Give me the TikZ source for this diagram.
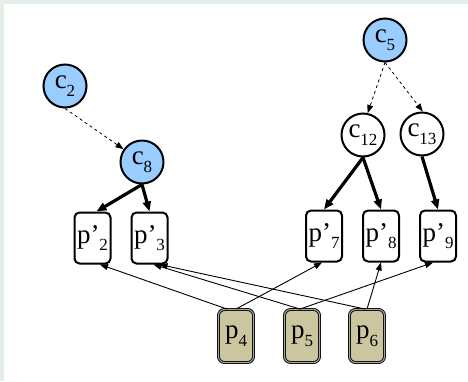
\documentclass[tikz,border=0pt]{standalone}
\usepackage{fontspec}
\setmainfont{Liberation Serif}
\usetikzlibrary{arrows.meta}
\definecolor{bgframe}{HTML}{E6EFE6}
\definecolor{cblue}{HTML}{99CCFF}
\definecolor{ptan}{HTML}{CBC6A0}
\newcommand\sbs[1]{\raisebox{-0.28em}{\fontsize{17}{17}\selectfont #1}}
\begin{document}
\begin{tikzpicture}[x=1pt,y=-1pt,
  cnode/.style={circle,draw,line width=2pt,minimum size=43pt,inner sep=0pt,fill=white,font=\fontsize{27}{29}\selectfont},
  bluenode/.style={cnode,fill=cblue},
  pbox/.style={rectangle,rounded corners=5pt,draw,line width=2pt,minimum width=36pt,minimum height=51pt,inner sep=0pt,fill=white,font=\fontsize{27}{29}\selectfont},
  porig/.style={rectangle,rounded corners=6pt,draw,line width=0.9pt,double=gray!70,double distance=1.1pt,fill=ptan,minimum width=35pt,minimum height=53pt,inner sep=0pt,font=\fontsize{27}{29}\selectfont},
  dashedge/.style={dashed,line width=0.8pt,-{Triangle[length=8pt,width=6pt]}},
  thickedge/.style={line width=3.2pt,-{Triangle[length=10pt,width=8pt]}},
  thinedge/.style={line width=0.9pt,-{Triangle[length=8pt,width=6pt]}}]
\fill[bgframe] (0,0) rectangle (468,381);
\fill[white] (4,4) rectangle (468,381);
\useasboundingbox (0,0) rectangle (468,381);
% cluster nodes
\node[bluenode] (c2) at (65,86) {c\sbs{2}};
\node[bluenode] (c8) at (142,162) {c\sbs{8}};
\node[bluenode] (c5) at (385,40) {c\sbs{5}};
\node[cnode] (c12) at (363,135) {c\sbs{12}};
\node[cnode] (c13) at (422,134) {c\sbs{13}};
% p' nodes
\node[pbox] (p2) at (92.5,238) {p’\sbs{2}};
\node[pbox] (p3) at (149.5,238) {p’\sbs{3}};
\node[pbox] (p7) at (324,236) {p’\sbs{7}};
\node[pbox] (p8) at (381,236) {p’\sbs{8}};
\node[pbox] (p9) at (438,236) {p’\sbs{9}};
% original p nodes
\node[porig] (p4) at (236,336) {p\sbs{4}};
\node[porig] (p5) at (302,336) {p\sbs{5}};
\node[porig] (p6) at (367,336) {p\sbs{6}};
% dashed
\draw[dashedge] (c2.south) -- (c8);
\draw[dashedge] (c5.south) -- (c12.78);
\draw[dashedge] (c5.south) -- (c13.88);
% thick
\draw[thickedge] (c8.south) -- ([xshift=4pt]p2.north);
\draw[thickedge] (c8.south) -- (p3.north);
\draw[thickedge] (c12.south) -- (p7.north);
\draw[thickedge] (c12.south) -- (p8.north);
\draw[thickedge] (c13.south) -- (p9.north);
% thin
\draw[thinedge] ([xshift=-9pt]p4.north) -- ([xshift=7.5pt]p2.south);
\draw[thinedge] (p4.north) -- ([xshift=-2pt]p7.south);
\draw[thinedge] ([xshift=-2pt]p5.north) -- ([xshift=4pt]p3.south);
\draw[thinedge] ([xshift=-2pt]p5.north) -- ([xshift=-5pt]p9.south);
\draw[thinedge] ([xshift=-2pt]p6.north) -- ([xshift=10pt]p3.south);
\draw[thinedge] (p6.north) -- (p8.south);
\end{tikzpicture}
\end{document}
